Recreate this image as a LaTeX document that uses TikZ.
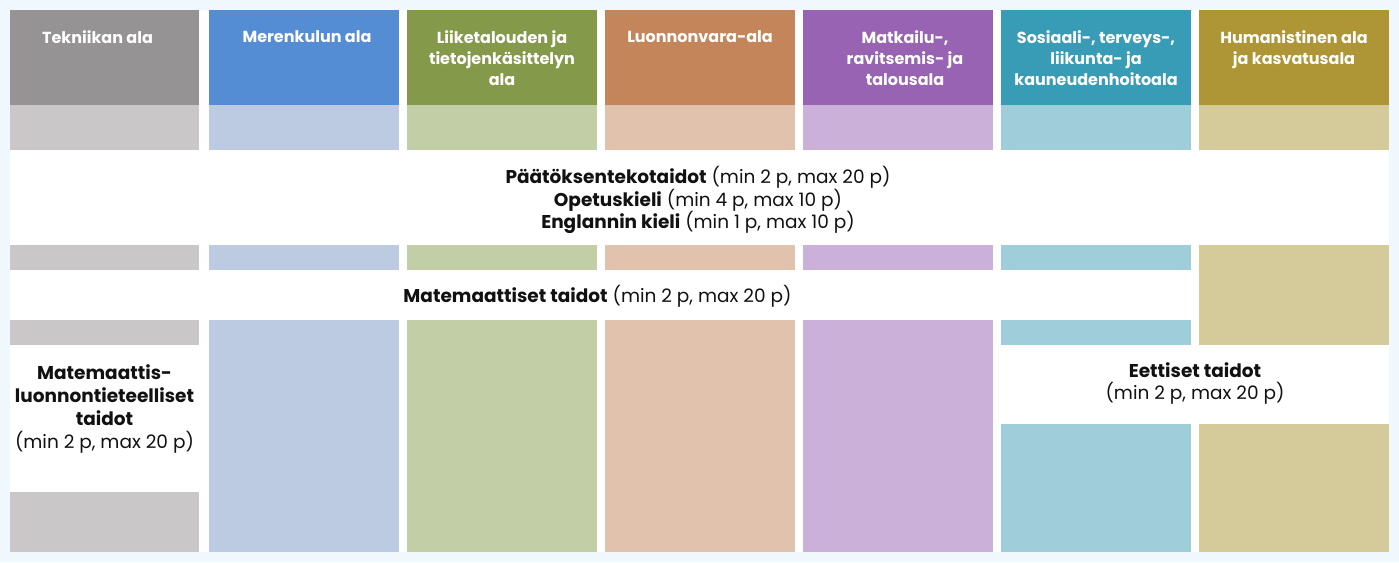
\documentclass[tikz,border=0pt]{standalone}
\usepackage{fontspec}
\setmainfont{Poppins}
\definecolor{bgc}{HTML}{F0F7FD}
\definecolor{dA}{HTML}{959393}\definecolor{lA}{HTML}{C9C7C8}
\definecolor{dB}{HTML}{548DD4}\definecolor{lB}{HTML}{BCCBE1}
\definecolor{dC}{HTML}{849A4A}\definecolor{lC}{HTML}{C2CEA6}
\definecolor{dD}{HTML}{C5855A}\definecolor{lD}{HTML}{E1C2AD}
\definecolor{dE}{HTML}{9763B2}\definecolor{lE}{HTML}{CBB0D9}
\definecolor{dF}{HTML}{399CB7}\definecolor{lF}{HTML}{9FCDDA}
\definecolor{dG}{HTML}{AE9536}\definecolor{lG}{HTML}{D5CB9A}
\definecolor{txt}{HTML}{111111}
\begin{document}
\begin{tikzpicture}[x=1pt,y=-1pt,
  head/.style={anchor=north,align=center,text=white,inner sep=0pt,font=\fontsize{16}{21}\selectfont\bfseries},
  body/.style={align=center,text=txt,inner sep=0pt,font=\fontsize{18.5}{22.8}\selectfont}]
\useasboundingbox (0,0) rectangle (1399,562);
\fill[bgc] (0,0) rectangle (1399,562);
\fill[white] (10,10) rectangle (1389,552);
% headers and first light band
\foreach \l/\r/\d/\lc in {10/199/dA/lA,209/399/dB/lB,407/597/dC/lC,605/795/dD/lD,803/993/dE/lE,1001/1191/dF/lF,1199/1389/dG/lG}{
  \fill[\d] (\l,10) rectangle (\r,105);
  \fill[\lc] (\l,105) rectangle (\r,150);
}
% second light band (cols 1-6)
\foreach \l/\r/\lc in {10/199/lA,209/399/lB,407/597/lC,605/795/lD,803/993/lE,1001/1191/lF}{
  \fill[\lc] (\l,245) rectangle (\r,270);
}
% column 1
\fill[lA] (10,320) rectangle (199,345);
\fill[lA] (10,492) rectangle (199,552);
% columns 2-5
\foreach \l/\r/\lc in {209/399/lB,407/597/lC,605/795/lD,803/993/lE}{
  \fill[\lc] (\l,320) rectangle (\r,552);
}
% column 6
\fill[lF] (1001,320) rectangle (1191,345);
\fill[lF] (1001,424) rectangle (1191,552);
% column 7
\fill[lG] (1199,245) rectangle (1389,345);
\fill[lG] (1199,424) rectangle (1389,552);
% header texts
\node[head] (h1) at (97.5,30.5) {Tekniikan ala};
\node[head] (h2) at (307,30.5) {Merenkulun ala};
\node[head] (h3) at (502,30.5) {Liiketalouden ja\\ tietojenkäsittelyn\\ ala};
\node[head] (h4) at (700,30.5) {Luonnonvara-ala};
\node[head] (h5) at (905,30.5) {Matkailu-,\\ ravitsemis- ja\\ talousala};
\node[head] (h6) at (1096,30.5) {Sosiaali-, terveys-,\\ liikunta- ja\\ kauneudenhoitoala};
\node[head] (h7) at (1294,30.5) {Humanistinen ala\\ ja kasvatusala};
% band texts
\node[body] (t1) at (698,200) {\textbf{Päätöksentekotaidot} (min 2 p, max 20 p)\\ \textbf{Opetuskieli} (min 4 p, max 10 p)\\ \textbf{Englannin kieli} (min 1 p, max 10 p)};
\node[body] (t2) at (597.5,296.5) {\textbf{Matemaattiset taidot} (min 2 p, max 20 p)};
\node[body] (t3) at (104.5,409) {\textbf{Matemaattis-}\\ \textbf{luonnontieteelliset}\\ \textbf{taidot}\\ (min 2 p, max 20 p)};
\node[body] (t4) at (1195,383.5) {\textbf{Eettiset taidot}\\ (min 2 p, max 20 p)};
\end{tikzpicture}
\end{document}
